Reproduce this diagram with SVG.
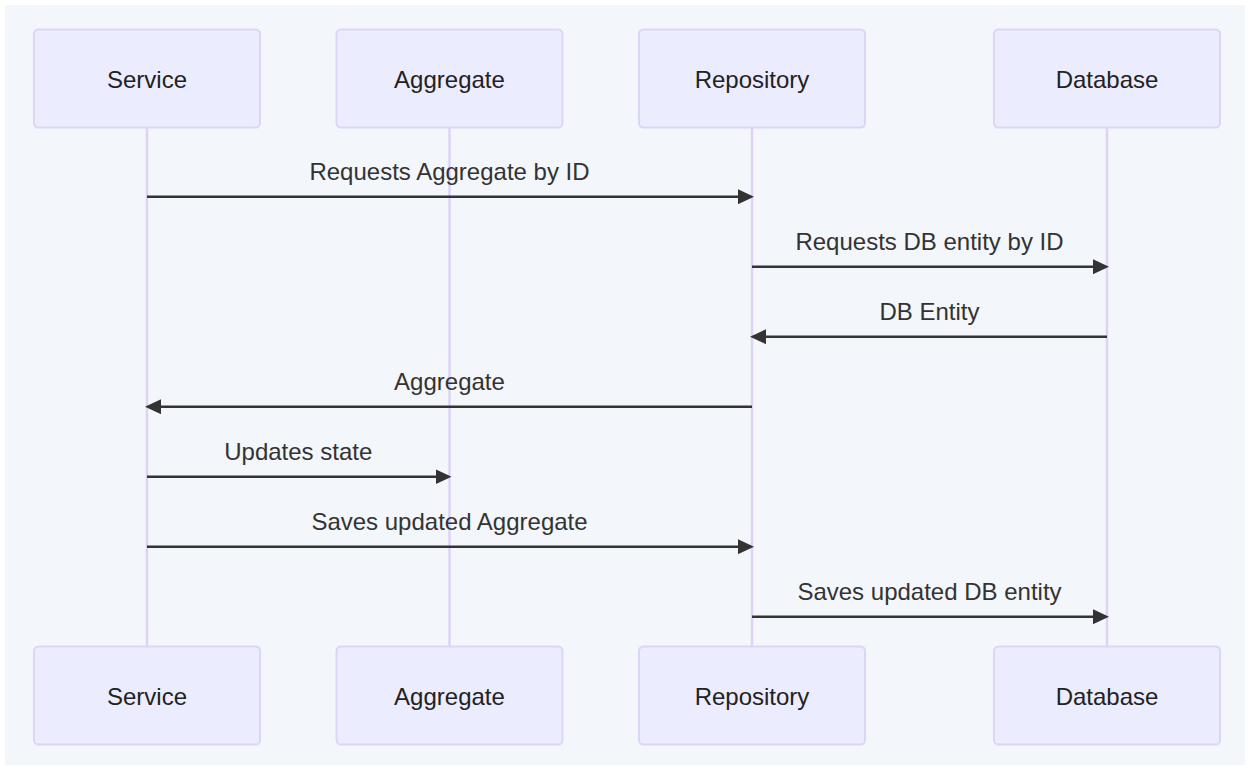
<svg xmlns="http://www.w3.org/2000/svg" width="1250" height="770" viewBox="0 0 1250 770">
<style>
.actor rect{fill:#ECECFF;stroke:#ddd5f5;stroke-width:2}
.actor text{font-family:"Liberation Sans",Arial,sans-serif;font-size:24px;fill:#222;text-anchor:middle}
.life{stroke:#ddd3f7;stroke-width:2.5}
.msg{stroke:#333;stroke-width:2.5;fill:none}
.lbl{font-family:"Liberation Sans",Arial,sans-serif;font-size:24px;fill:#333;text-anchor:middle}
</style>
<defs>
<marker id="ah" markerUnits="userSpaceOnUse" viewBox="0 0 16 15" markerWidth="16" markerHeight="15" refX="13" refY="7.5" orient="auto">
<path d="M0,0 L16,7.5 L0,15 z" fill="#333"/>
</marker>
</defs>
<rect x="0" y="0" width="1250" height="770" fill="#ffffff"/>
<rect x="5" y="5" width="1240" height="760" fill="#f3f6fa"/>
<g id="lifelines">
<line class="life" x1="147" y1="128" x2="147" y2="646"/>
<line class="life" x1="449.5" y1="128" x2="449.5" y2="646"/>
<line class="life" x1="752" y1="128" x2="752" y2="646"/>
<line class="life" x1="1107" y1="128" x2="1107" y2="646"/>
</g>
<g id="service-top" class="actor"><rect x="34" y="29.5" width="226" height="98" rx="4.5"/><text x="147" y="87.5">Service</text></g>
<g id="aggregate-top" class="actor"><rect x="336.5" y="29.5" width="226" height="98" rx="4.5"/><text x="449.5" y="87.5">Aggregate</text></g>
<g id="repository-top" class="actor"><rect x="639" y="29.5" width="226" height="98" rx="4.5"/><text x="752" y="87.5">Repository</text></g>
<g id="database-top" class="actor"><rect x="994" y="29.5" width="226" height="98" rx="4.5"/><text x="1107" y="87.5">Database</text></g>
<g id="service-bottom" class="actor"><rect x="34" y="646.5" width="226" height="98" rx="4.5"/><text x="147" y="704.5">Service</text></g>
<g id="aggregate-bottom" class="actor"><rect x="336.5" y="646.5" width="226" height="98" rx="4.5"/><text x="449.5" y="704.5">Aggregate</text></g>
<g id="repository-bottom" class="actor"><rect x="639" y="646.5" width="226" height="98" rx="4.5"/><text x="752" y="704.5">Repository</text></g>
<g id="database-bottom" class="actor"><rect x="994" y="646.5" width="226" height="98" rx="4.5"/><text x="1107" y="704.5">Database</text></g>
<g id="connectors">
<line class="msg" x1="147" y1="196.7" x2="751" y2="196.7" marker-end="url(#ah)"/>
<text class="lbl" x="449.5" y="180">Requests Aggregate by ID</text>
<line class="msg" x1="752" y1="266.7" x2="1106" y2="266.7" marker-end="url(#ah)"/>
<text class="lbl" x="929.5" y="250">Requests DB entity by ID</text>
<line class="msg" x1="1107" y1="336.7" x2="753" y2="336.7" marker-end="url(#ah)"/>
<text class="lbl" x="929.5" y="320">DB Entity</text>
<line class="msg" x1="752" y1="406.7" x2="148" y2="406.7" marker-end="url(#ah)"/>
<text class="lbl" x="449.5" y="390">Aggregate</text>
<line class="msg" x1="147" y1="476.7" x2="448.5" y2="476.7" marker-end="url(#ah)"/>
<text class="lbl" x="298.25" y="460">Updates state</text>
<line class="msg" x1="147" y1="546.7" x2="751" y2="546.7" marker-end="url(#ah)"/>
<text class="lbl" x="449.5" y="530">Saves updated Aggregate</text>
<line class="msg" x1="752" y1="616.7" x2="1106" y2="616.7" marker-end="url(#ah)"/>
<text class="lbl" x="929.5" y="600">Saves updated DB entity</text>
</g>
</svg>
